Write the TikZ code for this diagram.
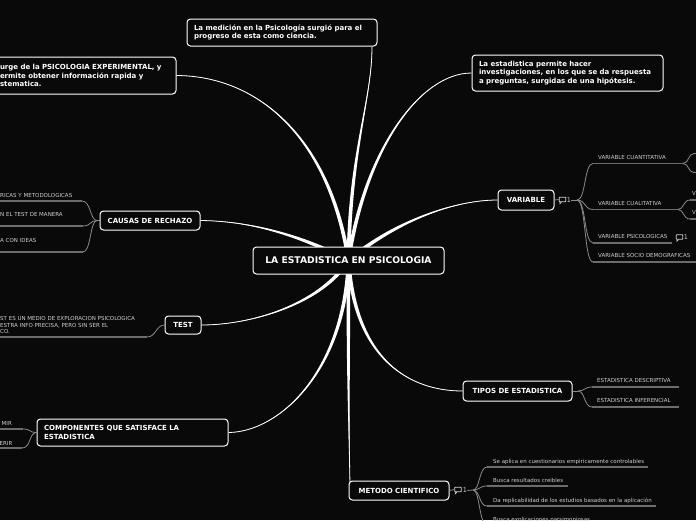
\documentclass[tikz,border=0pt]{standalone}
\usepackage{fontspec}
\setmainfont{DejaVu Sans}
\usetikzlibrary{calc}
\pgfdeclarelayer{back}
\pgfdeclarelayer{lines}
\pgfsetlayers{back,lines,main}
\definecolor{bg}{HTML}{09090A}
\definecolor{ln}{HTML}{8A8A8A}
\definecolor{ul}{HTML}{6C6C6C}
\definecolor{tx}{HTML}{D0D0D0}
\newcommand\taper[5]{%
 \fill[white] ($(#1)+(#5)$) .. controls ($(#2)+(#5)$) and (#3) .. (#4) .. controls (#3) and ($(#2)-(#5)$) .. ($(#1)-(#5)$) -- cycle;
 \draw[white,line width=0.8pt] (#1) .. controls (#2) and (#3) .. (#4);}
\tikzset{
 box/.style={draw=white, fill=bg, rounded corners=3.5pt, line width=1pt, text=white, inner xsep=7pt, inner ysep=0pt, font=\bfseries\fontsize{7}{8.8}\selectfont},
 mbox/.style={box, align=left},
 sbox/.style={box, align=center},
 sub/.style={text=tx, font=\fontsize{5.5}{6.5}\selectfont, inner sep=0pt, anchor=base west},
 brl/.style={draw=ln, line width=0.8pt},
 ull/.style={draw=ul, line width=1.2pt},
 cmt/.style={draw=tx, line width=0.8pt, minimum width=6.5pt, minimum height=4.5pt, inner sep=0pt, rounded corners=0.5pt},
 cnum/.style={text=tx, font=\fontsize{6.5}{7.5}\selectfont, inner sep=0pt},
}
\begin{document}
\begin{tikzpicture}[x=1pt,y=-1pt]
\begin{pgfonlayer}{back}
\fill[bg] (0,0) rectangle (696,520);
\end{pgfonlayer}
\useasboundingbox (0,0) rectangle (696,520);

% boxes
\node[sbox, minimum width=191pt, minimum height=27pt, font=\bfseries\fontsize{9.2}{11}\selectfont] (c) at (348.5,260.5) {LA ESTADISTICA EN PSICOLOGIA};
\node[mbox, text width=176pt, minimum height=27pt] (med) at (282,32.5) {La medición en la Psicología surgió para el\\progreso de esta como ciencia.};
\node[mbox, text width=169pt, minimum height=37pt] (surge) at (84.5,75.5) {urge de la PSICOLOGIA EXPERIMENTAL, y\\ermite obtener información rapida y\\stematica.};
\node[mbox, text width=177pt, minimum height=36pt] (est) at (567.5,73) {La estadistica permite hacer\\investigaciones, en los que se da respuesta\\a preguntas, surgidas de una hipótesis.};
\node[mbox, text width=177pt, minimum height=27pt] (comp) at (132.5,432.5) {COMPONENTES QUE SATISFACE LA\\ESTADISTICA};
\node[sbox, minimum width=56pt, minimum height=20pt] (var) at (526,200) {VARIABLE};
\node[sbox, minimum width=100pt, minimum height=19pt] (causas) at (150,220.5) {CAUSAS DE RECHAZO};
\node[sbox, minimum width=36pt, minimum height=18pt] (test) at (183,325) {TEST};
\node[sbox, minimum width=109pt, minimum height=20pt] (tipos) at (517.5,391) {TIPOS DE ESTADISTICA};
\node[sbox, minimum width=100pt, minimum height=19pt] (met) at (399,490.5) {METODO CIENTIFICO};

% main branches
\begin{pgfonlayer}{lines}
\coordinate (e1) at (372,46.5);
\coordinate (e9) at (350,484);
\taper{c.center}{350,150}{372,100}{e1}{1.9,0}
\taper{c.center}{330,140}{260,76}{surge.east}{1.9,0}
\taper{c.center}{365,150}{420,73}{est.west}{1.9,0}
\taper{c.center}{390,225}{450,200}{var.west}{1.2,1.5}
\taper{c.center}{300,235}{250,221}{causas.east}{0.9,-1.7}
\taper{c.center}{320,305}{250,325}{test.east}{1.6,1.0}
\taper{c.center}{345,370}{280,432}{comp.east}{1.9,0}
\taper{c.center}{355,360}{410,391}{tipos.west}{1.9,0}
\taper{c.center}{348,380}{349,440}{e9}{1.9,0}
\end{pgfonlayer}

% VARIABLE children
\node[cmt] (vic) at (562.5,199.5) {};
\draw[tx, line width=.6pt] ($(vic.south west)+(1,0)$) -- ++(0,1.6) -- ++(1.6,-1.6);
\node[cnum] (v1) at (569,200) {1};
\coordinate (vb) at (577,200);
\draw[brl] (var.east) -- (vic.west);
\draw[brl] (v1.east) -- (vb);
\foreach \y/\xe/\t/\n in {163.5/683/VARIABLE CUANTITATIVA/q1, 209.5/678/VARIABLE CUALITATIVA/q2, 243/672/VARIABLE PSICOLOGICAS/q3, 262/700/VARIABLE SOCIO DEMOGRAFICAS/q4}{
 \coordinate (\n-s) at (593,\y);
 \coordinate (\n-e) at (\xe,\y);
 \draw[brl] (vb) .. controls (586,200) and (584,\y) .. (\n-s);
 \draw[ull] (\n-s) -- (\n-e);
 \node[sub] (\n) at (598,\y-4.5) {\t};
}
% grandchildren of CUANTITATIVA (off page)
\coordinate (g1) at (694,153.5); \coordinate (g1e) at (700,153.5);
\coordinate (g2) at (694,172.5); \coordinate (g2e) at (700,172.5);
\draw[brl] (q1-e) .. controls (689,163.5) and (688,153.5) .. (g1) -- (g1e);
\draw[brl] (q1-e) .. controls (689,163.5) and (688,172.5) .. (g2) -- (g2e);
% grandchildren of CUALITATIVA
\coordinate (g3) at (690,200); \coordinate (g3e) at (700,200);
\coordinate (g4) at (690,219); \coordinate (g4e) at (700,219);
\draw[brl] (q2-e) .. controls (684,209.5) and (683,200) .. (g3);
\draw[brl] (q2-e) .. controls (684,209.5) and (683,219) .. (g4);
\draw[ull] (g3) -- (g3e);
\draw[ull] (g4) -- (g4e);
\node[sub] (gv1) at (692,195.5) {V};
\node[sub] (gv2) at (692,214.5) {V};
% comment on PSICOLOGICAS
\node[cmt] (pic) at (679.5,237) {};
\draw[tx, line width=.6pt] ($(pic.south west)+(1,0)$) -- ++(0,1.6) -- ++(1.6,-1.6);
\node[cnum] (p1n) at (686,237.5) {1};

% TIPOS children
\coordinate (tb) at (578,391);
\draw[brl] (tipos.east) -- (tb);
\foreach \y/\xe/\t/\n in {387/679/ESTADISTICA DESCRIPTIVA/t1, 407/679/ESTADISTICA INFERENCIAL/t2}{
 \coordinate (\n-s) at (592,\y);
 \coordinate (\n-e) at (\xe,\y);
 \draw[brl] (tb) .. controls (585,391) and (584,\y) .. (\n-s);
 \draw[ull] (\n-s) -- (\n-e);
 \node[sub] (\n) at (597,\y-4.5) {\t};
}

% METODO children
\node[cmt] (mic) at (458,489.5) {};
\draw[tx, line width=.6pt] ($(mic.south west)+(1,0)$) -- ++(0,1.6) -- ++(1.6,-1.6);
\node[cnum] (m1) at (465,490.5) {1};
\coordinate (mb) at (473,490);
\draw[brl] (met.east) -- (mic.west);
\draw[brl] (m1.east) -- (mb);
\foreach \y/\xe/\t/\n in {467/648/Se aplica en cuestionarios empiricamente controlables/r1, 486/568/Busca resultados creibles/r2, 506/656/Da replicabilidad de los estudios basados en la aplicación/r3, 525/700/Busca explicaciones parsimoniosas/r4}{
 \coordinate (\n-s) at (487,\y);
 \coordinate (\n-e) at (\xe,\y);
 \draw[brl] (mb) .. controls (480,490) and (479,\y) .. (\n-s);
 \draw[ull] (\n-s) -- (\n-e);
 \node[sub] (\n) at (493,\y-4) {\t};
}

% CAUSAS children
\coordinate (cb) at (97,220.5);
\draw[brl] (causas.west) -- (cb);
\foreach \y/\xe/\t/\n/\b in {201/82/RICAS Y METODOLOGICAS/k1/197, 226/83/N EL TEST DE MANERA/k2/216, 252/83/A CON IDEAS/k3/242}{
 \coordinate (\n-s) at (\xe,\y);
 \coordinate (\n-e) at (-2,\y);
 \draw[brl] (cb) .. controls (90,220.5) and (91,\y) .. (\n-s);
 \draw[ull] (\n-s) -- (\n-e);
 \node[sub] (\n) at (0,\b) {\t};
}

% TEST child
\coordinate (ts) at (147,337);
\coordinate (te) at (-2,337);
\draw[brl] (test.west) .. controls (156,325) and (156,337) .. (ts);
\draw[ull] (ts) -- (te);
\node[sub] (tt1) at (0,320.5) {ST ES UN MEDIO DE EXPLORACION PSICOLOGICA};
\node[sub] (tt2) at (0,327) {ESTRA INFO PRECISA, PERO SIN SER EL};
\node[sub] (tt3) at (0,333.5) {CO.};

% COMPONENTES children
\foreach \y/\xe/\t/\n/\b/\xt in {429/23/MIR/p1/425/1.5, 448/22/ERIR/p2/445/-0.5}{
 \coordinate (\n-s) at (\xe,\y);
 \coordinate (\n-e) at (-2,\y);
 \draw[brl] (comp.west) .. controls (29,432.5) and (31,\y) .. (\n-s);
 \draw[ull] (\n-s) -- (\n-e);
 \node[sub] (\n) at (\xt,\b) {\t};
}
\end{tikzpicture}
\end{document}
